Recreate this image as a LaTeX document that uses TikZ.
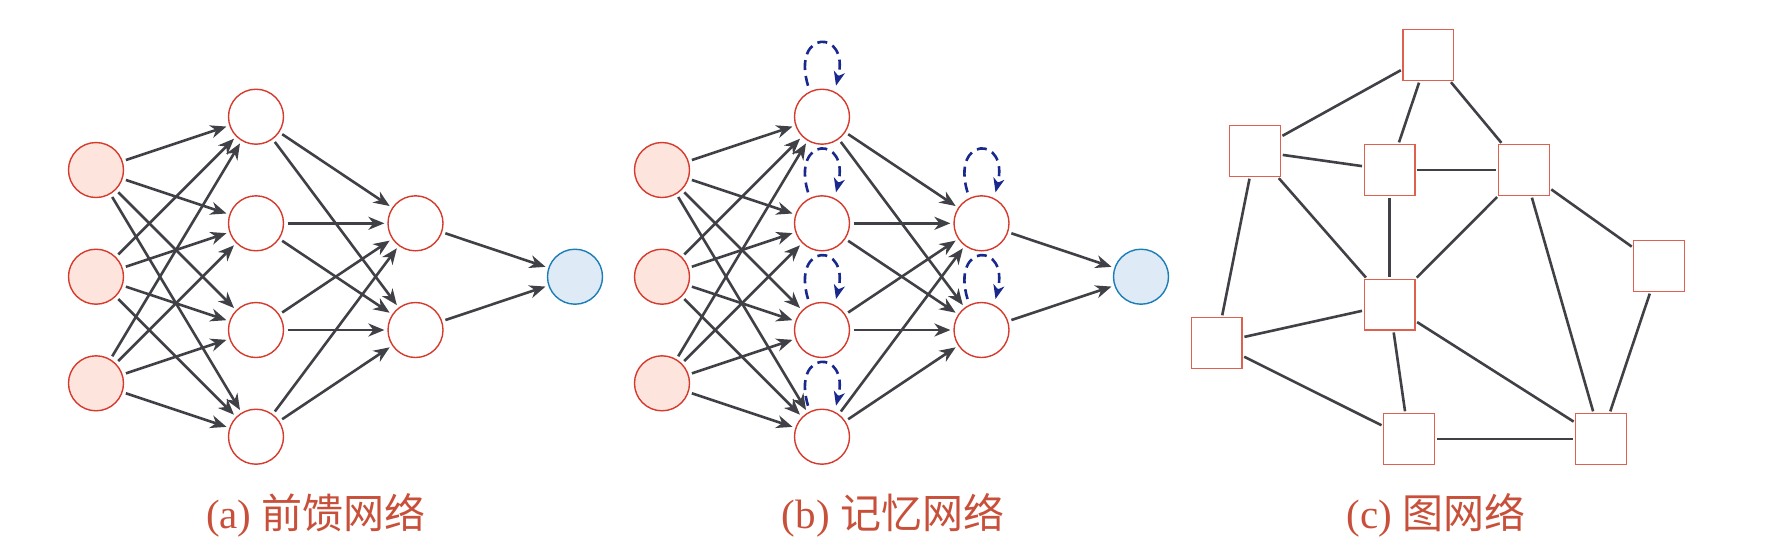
\documentclass[tikz,border=0pt]{standalone}
\usepackage{fontspec}
\setmainfont{Liberation Serif}
\newfontfamily\cjk{Noto Sans CJK SC}
\usetikzlibrary{arrows.meta}
\definecolor{nodered}{RGB}{214,58,44}
\definecolor{inpfill}{RGB}{253,228,221}
\definecolor{outfill}{RGB}{222,234,246}
\definecolor{outblue}{RGB}{27,125,181}
\definecolor{arrgray}{RGB}{64,65,70}
\definecolor{sqred}{RGB}{222,96,78}
\definecolor{labred}{RGB}{200,80,58}
\definecolor{loopblue}{RGB}{25,40,140}
\tikzset{
  neuron/.style={circle,draw=nodered,line width=0.7pt,minimum size=27.5pt,inner sep=0pt,outer sep=0pt,fill=white},
  inp/.style={neuron,fill=inpfill},
  outn/.style={neuron,draw=outblue,fill=outfill},
  arr/.style={draw=arrgray,line width=1.3pt,-{Stealth[length=8pt,width=6.5pt,inset=2.5pt]},shorten >=1.8pt,shorten <=2pt},
  loopst/.style={draw=loopblue,line width=1.3pt,dash pattern=on 5pt off 3pt,-{Stealth[length=7pt,width=5.5pt,inset=2pt]}},
  gnode/.style={rectangle,draw=sqred,line width=0.7pt,minimum size=25.35pt,inner sep=0pt,outer sep=0pt,fill=white},
  gedge/.style={draw=arrgray,line width=1.3pt,shorten >=1.2pt,shorten <=1.2pt},
  lab/.style={text=labred,font=\fontsize{20.5pt}{25pt}\selectfont,inner sep=0pt}
}
\newcommand\mynet[2]{%
  \foreach \i/\yy in {1/170,2/276.7,3/383.3} \node[inp] (#1i\i) at (#2+96,\yy) {};
  \foreach \j/\yy in {1/116.7,2/223.3,3/330,4/436.7} \node[neuron] (#1h\j) at (#2+256,\yy) {};
  \foreach \k/\yy in {1/223.3,2/330} \node[neuron] (#1g\k) at (#2+415.5,\yy) {};
  \node[outn] (#1o) at (#2+575,276.7) {};
  \foreach \i in {1,2,3} \foreach \j in {1,2,3,4} \draw[arr] (#1i\i) -- (#1h\j);
  \foreach \j in {1,2,3,4} \foreach \k in {1,2} \draw[arr] (#1h\j) -- (#1g\k);
  \foreach \k in {1,2} \draw[arr] (#1g\k) -- (#1o);
}
\begin{document}
\begin{tikzpicture}[x=0.5pt,y=-0.5pt]
\useasboundingbox (0,0) rectangle (1765,554);
% (a)
\mynet{a}{0}
% (b)
\mynet{b}{566}
\foreach \n in {bh1,bh2,bh3,bh4,bg1,bg2}
  \draw[loopst] ([shift={(-14,-31)}]\n.center) .. controls +(-17,-57) and +(14,-57) .. ([shift={(14,-31)}]\n.center);
% (c)
\node[gnode] (A) at (1428.3,55) {};
\node[gnode] (B) at (1255,151) {};
\node[gnode] (C) at (1389.7,170) {};
\node[gnode] (D) at (1524,170) {};
\node[gnode] (E) at (1659,266) {};
\node[gnode] (F) at (1389.7,304.7) {};
\node[gnode] (G) at (1216.7,343) {};
\node[gnode] (H) at (1409,439) {};
\node[gnode] (I) at (1601,439) {};
\foreach \u/\v in {A/B,A/C,A/D,B/C,C/D,B/F,B/G,C/F,D/F,D/E,D/I,E/I,F/G,F/H,F/I,G/H,H/I}
  \draw[gedge] (\u) -- (\v);
% labels
\node[lab] (la) at (316,515) {(a) {\cjk 前馈网络}};
\node[lab] (lb) at (893,515) {(b) {\cjk 记忆网络}};
\node[lab] (lc) at (1436,515) {(c) {\cjk 图网络}};
\end{tikzpicture}
\end{document}
